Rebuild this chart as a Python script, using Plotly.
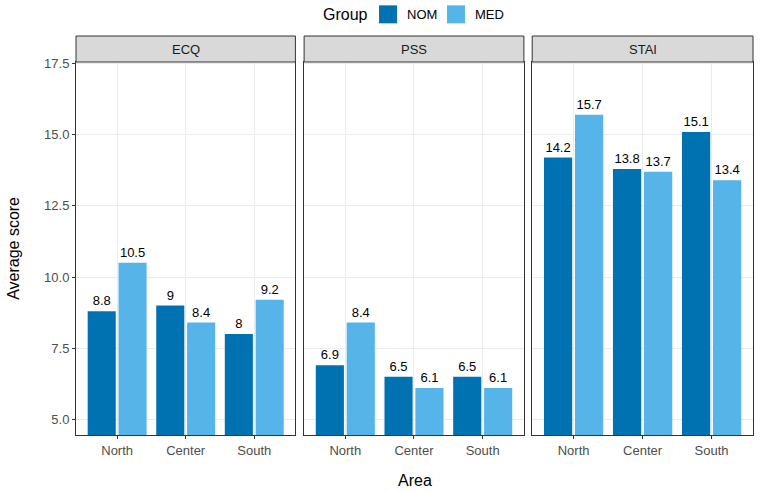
import plotly.graph_objects as go

areas = ["North", "Center", "South"]
facets = ["ECQ", "PSS", "STAI"]
groups = ["NOM", "MED"]
nom_values = {"ECQ": [8.8, 9, 8], "PSS": [6.9, 6.5, 6.5], "STAI": [14.2, 13.8, 15.1]}
med_values = {"ECQ": [10.5, 8.4, 9.2], "PSS": [8.4, 6.1, 6.1], "STAI": [15.7, 13.7, 13.4]}
y_ticks = [5.0, 7.5, 10.0, 12.5, 15.0, 17.5]
y_tick_labels = ["5.0", "7.5", "10.0", "12.5", "15.0", "17.5"]

colors = {"NOM": "#0072B2", "MED": "#56B4E9"}
FONT = "Liberation Sans, Arial, sans-serif"

W, H = 763, 492
ml, mr, mt, mb = 75.7, 9.7, 61.7, 57
pw = W - ml - mr
ph = H - mt - mb
domains = [
    [0.0, (295.3 - ml) / pw],
    [(304 - ml) / pw, (524 - ml) / pw],
    [(532.3 - ml) / pw, 1.0],
]

def px_x(x):
    return (x - ml) / pw

def px_y(y):
    return (H - mb - y) / ph

fig = go.Figure()
for i, f in enumerate(facets):
    xa = "x" if i == 0 else f"x{i+1}"
    ya = "y" if i == 0 else f"y{i+1}"
    for g, vals in (("NOM", nom_values[f]), ("MED", med_values[f])):
        fig.add_trace(go.Bar(
            x=areas, y=vals, name=g, legendgroup=g, showlegend=False,
            marker=dict(color=colors[g], line=dict(width=0)),
            text=[f"{v:g}" for v in vals], textposition="outside",
            textfont=dict(size=13, color="#000000", family=FONT),
            cliponaxis=False, xaxis=xa, yaxis=ya,
        ))

yrange = [4.45, 17.556]
layout = dict(
    width=W, height=H,
    margin=dict(l=ml, r=mr, t=mt, b=mb, pad=0),
    paper_bgcolor="white", plot_bgcolor="white",
    barmode="group", bargap=0.1, bargroupgap=0.09,
    font=dict(family=FONT, size=13, color="#4D4D4D"),
    showlegend=False,
)
for i in range(3):
    sx = "" if i == 0 else str(i + 1)
    layout[f"xaxis{sx}"] = dict(
        domain=domains[i], anchor=f"y{sx}", type="category",
        range=[-0.6, 2.6], showgrid=True, gridcolor="#EBEBEB", gridwidth=1,
        showline=True, mirror=True, linecolor="#333333", linewidth=1,
        ticks="outside", ticklen=3, tickcolor="#333333",
        tickfont=dict(size=13, color="#4D4D4D"), zeroline=False, fixedrange=True,
    )
    layout[f"yaxis{sx}"] = dict(
        domain=[0, 1], anchor=f"x{sx}", range=yrange,
        tickvals=y_ticks, ticktext=y_tick_labels,
        showticklabels=(i == 0), ticks="outside" if i == 0 else "",
        ticklen=3, tickcolor="#333333",
        showgrid=True, gridcolor="#EBEBEB", gridwidth=1,
        showline=True, mirror=True, linecolor="#333333", linewidth=1,
        tickfont=dict(size=13, color="#4D4D4D"), zeroline=False,
    )
fig.update_layout(**layout)

# facet strips
strip_h = 26 / ph
for i, f in enumerate(facets):
    fig.add_shape(type="rect", xref="paper", yref="paper",
                  x0=domains[i][0], x1=domains[i][1], y0=1.0, y1=1.0 + strip_h,
                  fillcolor="#D9D9D9", line=dict(color="#333333", width=1))
    fig.add_annotation(xref="paper", yref="paper",
                       x=(domains[i][0] + domains[i][1]) / 2, y=1.0 + strip_h / 2,
                       text=f, showarrow=False, xanchor="center", yanchor="middle",
                       font=dict(size=13, color="#1A1A1A"))

# legend (drawn manually at top)
ly = 14
fig.add_annotation(xref="paper", yref="paper", x=px_x(370), y=px_y(ly),
                   text="Group", showarrow=False, xanchor="right", yanchor="middle",
                   font=dict(size=16, color="#000000"))
key_x = {"NOM": 379, "MED": 447}
for g in groups:
    x0 = key_x[g]
    fig.add_shape(type="rect", xref="paper", yref="paper",
                  x0=px_x(x0), x1=px_x(x0 + 18), y0=px_y(ly + 9), y1=px_y(ly - 9),
                  fillcolor=colors[g], line=dict(width=0))
    fig.add_annotation(xref="paper", yref="paper", x=px_x(x0 + 26), y=px_y(ly),
                       text=g, showarrow=False, xanchor="left", yanchor="middle",
                       font=dict(size=13, color="#000000"))

fig.add_annotation(xref="paper", yref="paper", x=px_x(414.5), y=px_y(481),
                   text="Area", showarrow=False, yanchor="middle",
                   font=dict(size=16, color="#000000"))
fig.add_annotation(xref="paper", yref="paper", x=px_x(13), y=0.5,
                   text="Average score", showarrow=False, textangle=-90,
                   xanchor="center", yanchor="middle",
                   font=dict(size=16, color="#000000"))

fig.write_html("out.html", config={"displayModeBar": False},
               post_script="document.body.style.margin='0';")
